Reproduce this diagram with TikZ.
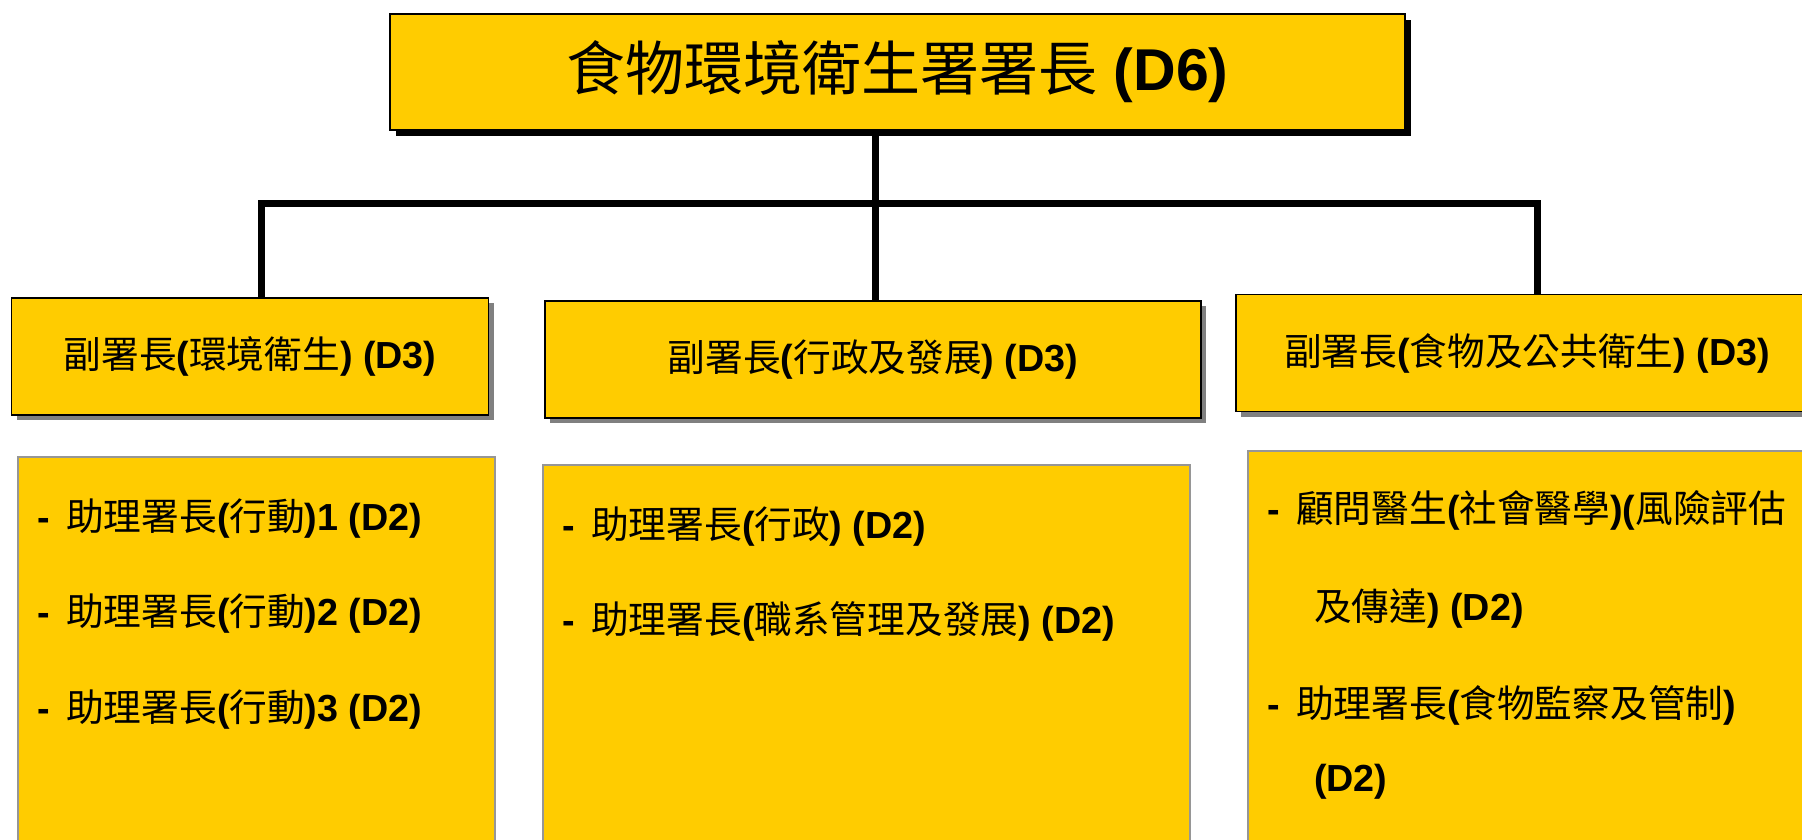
\documentclass[tikz,border=0pt]{standalone}
\usepackage{fontspec}
\setmainfont{Liberation Sans}
\newfontfamily\cjk{Noto Sans CJK TC}
\usetikzlibrary{shadows}

\definecolor{orgyellow}{RGB}{255,204,0}
\definecolor{listframe}{RGB}{150,150,150}
\definecolor{shadowgray}{RGB}{128,128,128}

\newcommand\zh[1]{{\cjk\mdseries #1}}
\newcommand\itemdash{\makebox[29pt][l]{-}}

\begin{document}
\begin{tikzpicture}[x=1pt,y=-1pt,
  headbox/.style={draw, line width=1.5pt, fill=orgyellow, inner sep=0pt,
    minimum width=1015pt, minimum height=116pt,
    drop shadow={shadow xshift=6pt, shadow yshift=-6pt, fill=black, opacity=1},
    font=\fontsize{59}{70}\selectfont},
  deputybox/.style={draw, line width=1.5pt, fill=orgyellow, inner sep=0pt,
    minimum height=117pt,
    drop shadow={shadow xshift=5pt, shadow yshift=-5pt, fill=shadowgray, opacity=1},
    font=\fontsize{37.7}{44}\selectfont\bfseries},
  listbox/.style={draw=listframe, line width=1.5pt, fill=orgyellow, inner sep=0pt,
    anchor=north west, minimum height=400pt},
  item/.style={anchor=base west, inner sep=0pt, font=\fontsize{37.7}{44}\selectfont\bfseries},
  bus/.style={line width=7pt}]
  \useasboundingbox (0,0) rectangle (1802,840);
  \clip (0,0) rectangle (1802,840);

  \node[headbox] (dir) at (897.5,72) {\zh{食物環境衛生署署長} \textbf{(D6)}};

  \node[deputybox, minimum width=477pt] (depEH) at (250,356.5) {\zh{副署長}(\zh{環境衛生}) (D3)};
  \node[deputybox, minimum width=656pt] (depAD) at (873,359.5) {\zh{副署長}(\zh{行政及發展}) (D3)};
  \node[deputybox, minimum width=582pt] (depFPH) at (1527,353) {\zh{副署長}(\zh{食物及公共衛生}) (D3)};

  \node[listbox, minimum width=477pt] (listEH) at (17,456) {};
  \node[listbox, minimum width=647pt] (listAD) at (542,464) {};
  \node[listbox, minimum width=583pt] (listFPH) at (1247,450) {};

  \node[item] (eh1) at (37,530) {\itemdash\zh{助理署長}(\zh{行動})1 (D2)};
  \node[item] (eh2) at (37,625) {\itemdash\zh{助理署長}(\zh{行動})2 (D2)};
  \node[item] (eh3) at (37,721) {\itemdash\zh{助理署長}(\zh{行動})3 (D2)};

  \node[item] (ad1) at (562,538) {\itemdash\zh{助理署長}(\zh{行政}) (D2)};
  \node[item] (ad2) at (562,633) {\itemdash\zh{助理署長}(\zh{職系管理及發展}) (D2)};

  \node[item] (fph1) at (1267,522) {\itemdash\zh{顧問醫生}(\zh{社會醫學})(\zh{風險評估}};
  \node[item] (fph1b) at (1314,620) {\zh{及傳達}) (D2)};
  \node[item] (fph2) at (1267,717) {\itemdash\zh{助理署長}(\zh{食物監察及管制})};
  \node[item] (fph2b) at (1314,791) {(D2)};

  % connectors
  \coordinate (busL) at (261,203);
  \coordinate (busM) at (875,203);
  \coordinate (busR) at (1537,203);
  \draw[bus] (dir.south -| busM) -- (busM);
  \draw[bus, line cap=rect] (busL) -- (busR);
  \draw[bus] (busL) -- (busL |- depEH.north);
  \draw[bus] (busM) -- (busM |- depAD.north);
  \draw[bus] (busR) -- (busR |- depFPH.north);
\end{tikzpicture}
\end{document}
